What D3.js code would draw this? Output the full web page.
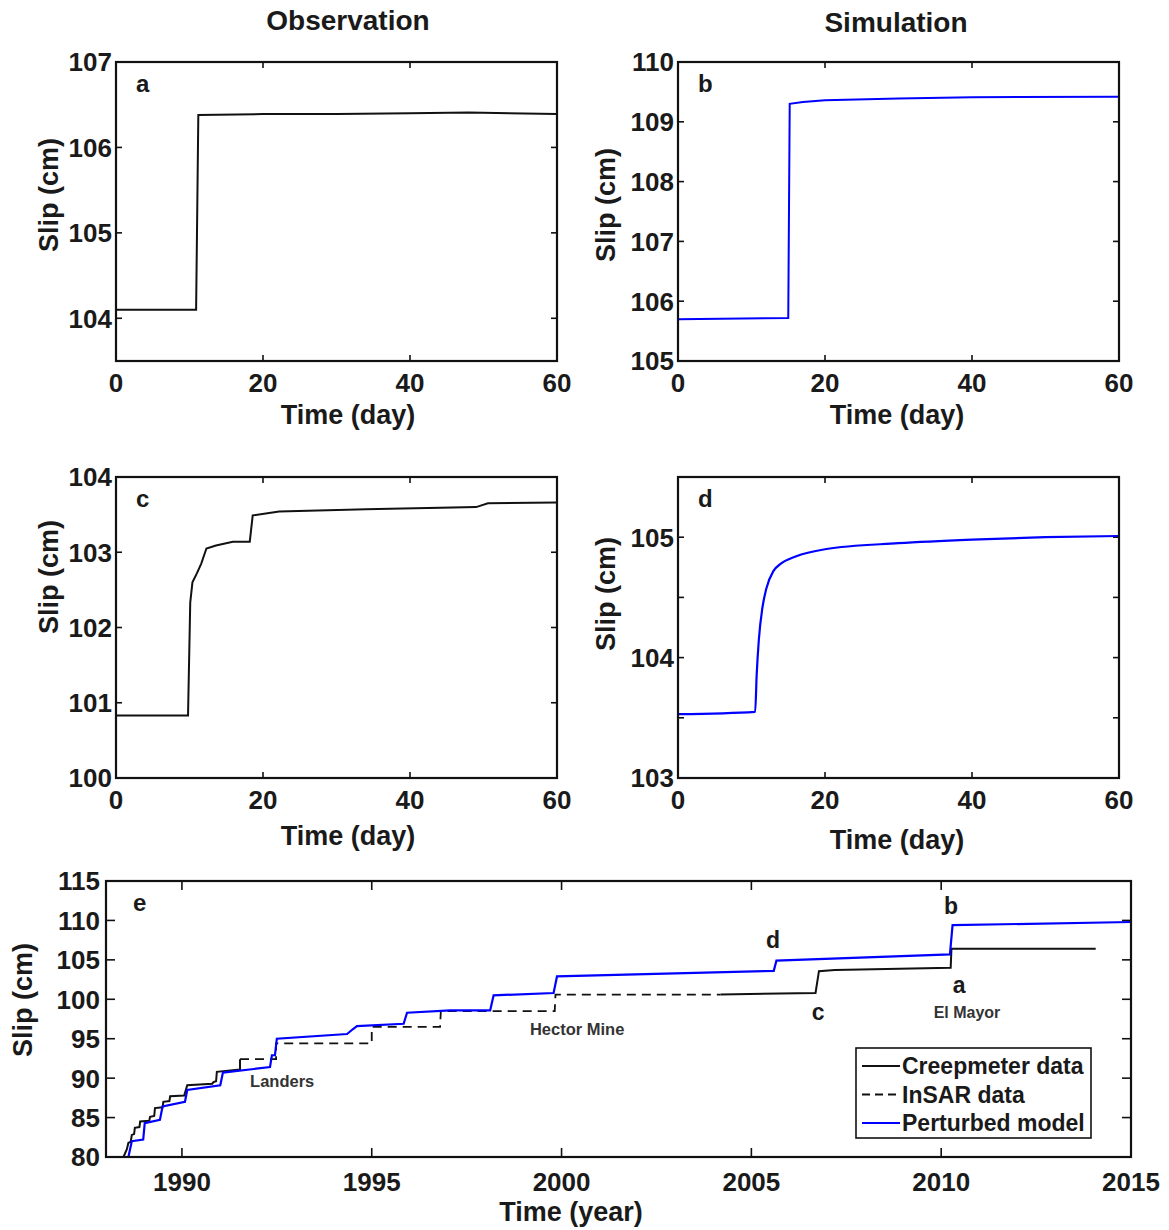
<!DOCTYPE html>
<html>
<head>
<meta charset="utf-8">
<script src="https://cdn.jsdelivr.net/npm/d3@7"></script>
<style>
  body { margin: 0; background: #fff; }
  svg text { font-family: "Liberation Sans", Arial, sans-serif; font-weight: bold; fill: #1a1a1a; }
</style>
</head>
<body>
<div id="chart"></div>
<script>
// ---- data ----
// panel a: observed creep (day, cm)
var obsA = [[0,104.1],[10.9,104.1],[11.2,106.38],[20,106.39],[30,106.39],[40,106.4],[48,106.41],[60,106.39]];
// panel b: simulated
var simB = [[0,105.7],[15,105.72],[15.2,109.3],[17,109.33],[20,109.36],[30,109.39],[40,109.41],[60,109.42]];
// panel c: observed creep (day, cm)
var obsC = [[0,100.83],[9.8,100.83],[10.1,102.33],[10.4,102.6],[11.0,102.72],[11.6,102.85],[12.3,103.05],[13.6,103.09],[15.9,103.14],[18.2,103.14],
            [18.6,103.49],[22.2,103.54],[34,103.57],[49,103.6],[50.6,103.65],[60,103.66]];
// panel d: simulated
var simD = [[0,103.53],[10.5,103.55],[10.7,103.85],[11.0,104.15],[11.5,104.42],[12,104.57],[13,104.72],[14,104.78],[16,104.84],
            [20,104.9],[30,104.95],[40,104.98],[50,105.0],[60,105.01]];

// panel e: long-term record (year, cm)
var creep1 = [[1988.46,80],[1988.55,81.0],[1988.59,81.8],[1988.65,81.9],[1988.68,82.8],[1988.74,82.9],[1988.76,83.7],[1988.88,83.8],
              [1988.9,84.5],[1989.14,84.6],[1989.16,85.1],[1989.27,85.2],[1989.29,86.2],[1989.49,86.3],[1989.51,87.0],[1989.67,87.1],
              [1989.69,87.7],[1990.06,87.8],[1990.14,89.1],[1990.8,89.3],[1990.83,89.5],[1990.9,89.6],[1990.92,90.8],[1991.53,91.1],[1991.53,92.4]];
var insar = [[1991.53,92.4],[1992.48,92.4],[1992.48,94.4],[1995.0,94.4],[1995.0,96.5],[1996.8,96.5],[1996.82,98.5],
             [1999.82,98.5],[1999.84,100.6],[2004.19,100.6]];
var creep2 = [[2004.19,100.6],[2006.69,100.8],[2006.78,103.56],[2007.2,103.7],[2010.25,104.0],[2010.27,106.4],[2014.07,106.4]];
var model = [[1988.59,80],[1988.68,82.0],[1988.98,82.2],[1989.02,84.3],[1989.42,84.7],[1989.49,86.4],[1990.08,87.0],[1990.14,88.5],
             [1991.01,89.1],[1991.08,90.7],[1992.32,91.4],[1992.37,92.9],[1992.45,92.9],[1992.5,95.0],[1994.35,95.6],[1994.5,96.2],
             [1994.61,96.6],[1995.84,96.9],[1995.93,98.3],[1997.07,98.6],[1998.12,98.6],[1998.21,100.5],[1999.79,100.8],[1999.88,102.9],
             [2005.59,103.6],[2005.66,104.9],[2010.23,105.7],[2010.3,109.4],[2015,109.8]];

var dayTicks = [0,20,40,60];
var yearTicks = [1990,1995,2000,2005,2010,2015];
var slipTicksE = [80,85,90,95,100,105,110,115];
var legendNames = ["Creepmeter data","InSAR data","Perturbed model"];
// event annotations in panel e
var events = [["Landers",1992.64,88.9],["Hector Mine",2000.41,95.5],["El Mayor",2010.68,97.6]];
var segLetters = [["d",2005.57,106.5],["b",2010.26,110.8],["a",2010.47,100.8],["c",2006.76,97.4]];

var W = 1169, H = 1230;
var blue = "#0000ff";

var svg = d3.select("#chart").append("svg")
    .attr("width", W)
    .attr("height", H);

svg.append("text").attr("x", 348).attr("y", 30).attr("text-anchor", "middle").attr("font-size", 28).text("Observation");
svg.append("text").attr("x", 896).attr("y", 32).attr("text-anchor", "middle").attr("font-size", 28).text("Simulation");

//画一个小图
function drawPanel(p){
    var x = d3.scaleLinear().domain(p.xdom).range([p.x0, p.x1]);
    var y = d3.scaleLinear().domain(p.ydom).range([p.y1, p.y0]);
    var g = svg.append("g");
    var tl = p.tickLen || 6;

    // ticks inside on all four sides
    p.xticks.forEach(function(t){
        g.append("line").attr("x1", x(t)).attr("x2", x(t)).attr("y1", p.y1).attr("y2", p.y1 - tl).attr("stroke", "#111").attr("stroke-width", 1.6);
        g.append("line").attr("x1", x(t)).attr("x2", x(t)).attr("y1", p.y0).attr("y2", p.y0 + tl).attr("stroke", "#111").attr("stroke-width", 1.6);
        g.append("text").attr("x", x(t)).attr("y", p.y1 + p.xlabOff).attr("text-anchor", "middle").attr("font-size", p.fs).text(t);
    });
    p.yticks.forEach(function(t){
        g.append("line").attr("x1", p.x0).attr("x2", p.x0 + tl).attr("y1", y(t)).attr("y2", y(t)).attr("stroke", "#111").attr("stroke-width", 1.6);
        g.append("line").attr("x1", p.x1).attr("x2", p.x1 - tl).attr("y1", y(t)).attr("y2", y(t)).attr("stroke", "#111").attr("stroke-width", 1.6);
        if (Number.isInteger(t))
            g.append("text").attr("x", p.x0 - p.ylabOff).attr("y", y(t)).attr("dy", "0.36em").attr("text-anchor", "end").attr("font-size", p.fs).text(t);
    });

    var line = d3.line().x(d => x(d[0])).y(d => y(d[1]));
    if (p.curve) line.curve(p.curve);
    p.series.forEach(function(s){
        g.append("path").datum(s.data)
            .attr("d", line)
            .attr("fill", "none")
            .attr("stroke", s.color)
            .attr("stroke-width", s.width)
            .attr("stroke-dasharray", s.dash || null);
    });

    g.append("rect").attr("x", p.x0).attr("y", p.y0).attr("width", p.x1 - p.x0).attr("height", p.y1 - p.y0)
        .attr("fill", "none").attr("stroke", "#111").attr("stroke-width", 2.2);

    g.append("text").attr("x", p.xtitleX).attr("y", p.xtitleY).attr("text-anchor", "middle").attr("font-size", p.tfs).text(p.xtitle);
    g.append("text").attr("transform", "translate(" + p.ytitleX + "," + p.ytitleY + ") rotate(-90)")
        .attr("text-anchor", "middle").attr("font-size", p.tfs).text("Slip (cm)");
    g.append("text").attr("x", p.x0 + p.letterDx).attr("y", p.y0 + p.letterDy).attr("font-size", 24).text(p.letter);
    return {x: x, y: y, g: g};
}

var common = {xdom: [0,60], xticks: dayTicks, fs: 26, tfs: 27, xlabOff: 31, ylabOff: 4, xtitle: "Time (day)", letterDx: 20, letterDy: 30};

drawPanel(Object.assign({}, common, {x0: 116, x1: 557, y0: 62, y1: 361, ydom: [103.5,107], yticks: [104,105,106,107],
    xtitleX: 348, xtitleY: 424, ytitleX: 58, ytitleY: 195, letter: "a", series: [{data: obsA, color: "#111", width: 2}]}));
drawPanel(Object.assign({}, common, {x0: 678, x1: 1119, y0: 62, y1: 361, ydom: [105,110], yticks: [105,106,107,108,109,110],
    xtitleX: 897, xtitleY: 424, ytitleX: 615, ytitleY: 205, letter: "b", series: [{data: simB, color: blue, width: 2}]}));
drawPanel(Object.assign({}, common, {x0: 116, x1: 557, y0: 477, y1: 778, ydom: [100,104], yticks: [100,101,102,103,104],
    xtitleX: 348, xtitleY: 845, ytitleX: 58, ytitleY: 577, letter: "c", series: [{data: obsC, color: "#111", width: 2}]}));
drawPanel(Object.assign({}, common, {x0: 678, x1: 1119, y0: 477, y1: 778, ydom: [103,105.5], yticks: [103,103.5,104,104.5,105,105.5],
    xtitleX: 897, xtitleY: 849, ytitleX: 615, ytitleY: 594, letter: "d", curve: d3.curveMonotoneX, series: [{data: simD, color: blue, width: 2.2}]}));

var pe = drawPanel({x0: 106, x1: 1131, y0: 881, y1: 1157, xdom: [1988,2015], ydom: [80,115], xticks: yearTicks, yticks: slipTicksE,
    fs: 26, tfs: 27, xlabOff: 34, ylabOff: 6, tickLen: 9, xtitle: "Time (year)", xtitleX: 571, xtitleY: 1221, ytitleX: 32, ytitleY: 1000,
    letter: "e", letterDx: 27, letterDy: 30,
    series: [
        {data: insar, color: "#111", width: 1.8, dash: "9,6"},
        {data: creep1, color: "#111", width: 2},
        {data: creep2, color: "#111", width: 2},
        {data: model, color: blue, width: 2.2}
    ]});

// annotations
events.forEach(function(e){
    pe.g.append("text").attr("x", pe.x(e[1])).attr("y", pe.y(e[2])).attr("text-anchor", "middle")
        .attr("font-size", e[0] == "El Mayor" ? 16 : 16.5).style("fill", "#333").text(e[0]);
});
segLetters.forEach(function(s){
    pe.g.append("text").attr("x", pe.x(s[1])).attr("y", pe.y(s[2])).attr("text-anchor", "middle")
        .attr("font-size", 23).text(s[0]);
});

// legend
var lg = svg.append("g").attr("transform", "translate(856,1048)");
lg.append("rect").attr("width", 235).attr("height", 90).attr("fill", "#fff").attr("stroke", "#111").attr("stroke-width", 1.6);
var legStyles = [{color: "#111", dash: null}, {color: "#111", dash: "8,5"}, {color: blue, dash: null}];
legendNames.forEach(function(n, i){
    var yy = 18 + i * 28.5;
    lg.append("line").attr("x1", 6).attr("x2", 44).attr("y1", yy).attr("y2", yy)
        .attr("stroke", legStyles[i].color).attr("stroke-width", 2).attr("stroke-dasharray", legStyles[i].dash);
    lg.append("text").attr("x", 46).attr("y", yy).attr("dy", "0.36em").attr("font-size", 23).text(n);
});
</script>
</body>
</html>
